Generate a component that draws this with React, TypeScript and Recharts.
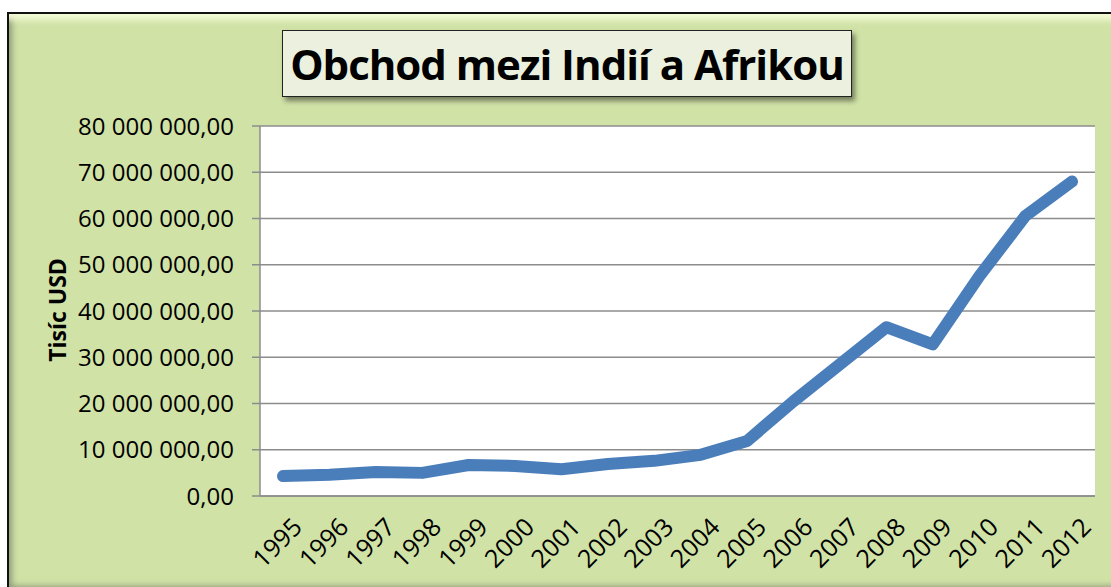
import { LineChart, Line, XAxis, YAxis, CartesianGrid } from "recharts";

const years = [
  "1995", "1996", "1997", "1998", "1999", "2000", "2001", "2002", "2003",
  "2004", "2005", "2006", "2007", "2008", "2009", "2010", "2011", "2012",
];
const trade = [
  4.3e6, 4.6e6, 5.2e6, 5.0e6, 6.7e6, 6.5e6, 5.8e6, 6.9e6, 7.6e6,
  8.9e6, 11.9e6, 20.5e6, 28.5e6, 36.5e6, 32.8e6, 47.5e6, 60.6e6, 68.0e6,
];
const yTicks = [0, 10e6, 20e6, 30e6, 40e6, 50e6, 60e6, 70e6, 80e6];

const data = years.map((y, i) => ({ year: y, value: trade[i] }));

const FONT = "'Open Sans', sans-serif";

const fmt = (v: number) =>
  Math.round(v).toString().replace(/\B(?=(\d{3})+(?!\d))/g, " ") + ",00";

function YearTick(props: any) {
  const { x, y, payload } = props;
  const ax = x + 8;
  const ay = y + 12;
  return (
    <text
      x={ax}
      y={ay}
      textAnchor="end"
      fontSize={25}
      fontFamily={FONT}
      fill="#000"
      dy="0.72em"
      transform={`rotate(-45 ${ax} ${ay})`}
    >
      {payload.value}
    </text>
  );
}

export default function App() {
  return (
    <div
      style={{
        position: "fixed",
        left: 0,
        top: 0,
        width: 1111,
        height: 587,
        overflow: "hidden",
        background: "#fff",
      }}
    >
      <div
        style={{
          position: "absolute",
          left: 7,
          top: 12,
          width: 1130,
          height: 580,
          border: "2px solid #111",
          background: "#d0e2a6",
          boxShadow:
            "inset 0 12px 6px -6px #f3fad6, inset 8px 0 6px -5px #8f9a7a, inset 0 -12px 6px -4px #8f9a7a",
        }}
      />
      <div
        style={{
          position: "absolute",
          left: 282,
          top: 30,
          width: 568,
          height: 65,
          background: "#ebf1de",
          border: "1.5px solid #222",
          boxShadow: "3px 4px 5px rgba(0,0,0,0.45)",
          display: "flex",
          alignItems: "center",
          justifyContent: "center",
          fontFamily: FONT,
          fontWeight: 700,
          fontSize: 42,
          letterSpacing: -1,
          color: "#000",
        }}
      >
        Obchod mezi Indií a Afrikou
      </div>
      <div
        style={{
          position: "absolute",
          left: 57,
          top: 310,
          transform: "translate(-50%, -50%) rotate(-90deg)",
          fontFamily: FONT,
          fontWeight: 700,
          fontSize: 23,
          whiteSpace: "nowrap",
        }}
      >
        Tisíc USD
      </div>
      <div style={{ position: "absolute", left: 0, top: 0 }}>
        <LineChart
          width={1111}
          height={587}
          data={data}
          margin={{ top: 126, right: 16, bottom: 0, left: 0 }}
        >
          <CartesianGrid
            vertical={false}
            stroke="#8c8c8c"
            strokeWidth={1.5}
            fill="#fff"
          />
          <XAxis
            dataKey="year"
            height={91}
            interval={0}
            padding={{ left: 23, right: 23 }}
            tickLine={false}
            axisLine={{ stroke: "#8c8c8c", strokeWidth: 1.5 }}
            tick={<YearTick />}
          />
          <YAxis
            width={260}
            domain={[0, 80e6]}
            ticks={yTicks}
            tickFormatter={fmt}
            tickSize={8}
            tickMargin={18}
            axisLine={{ stroke: "#8c8c8c", strokeWidth: 1.5 }}
            tickLine={{ stroke: "#8c8c8c", strokeWidth: 1.5 }}
            tick={{ fontSize: 24, fontFamily: FONT, fill: "#000" }}
          />
          <Line
            type="linear"
            dataKey="value"
            stroke="#4a7ebb"
            strokeWidth={12}
            strokeLinecap="round"
            strokeLinejoin="round"
            dot={false}
            activeDot={false}
            isAnimationActive={false}
          />
        </LineChart>
      </div>
    </div>
  );
}
